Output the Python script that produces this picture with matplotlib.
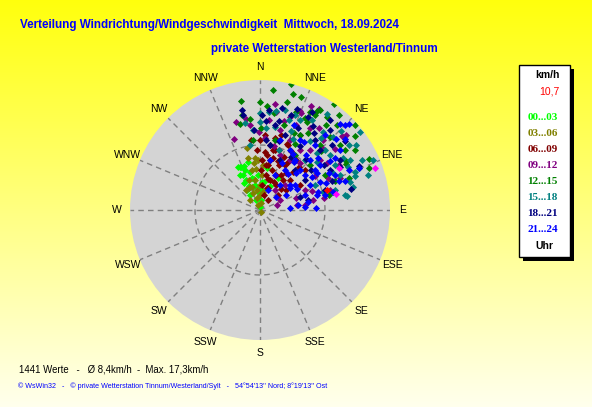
import numpy as np
import matplotlib as mpl
import matplotlib.pyplot as plt
from matplotlib.patches import Rectangle

mpl.rcParams["font.family"] = ["Liberation Sans", "DejaVu Sans"]

# ------------------------------------------------------------------
# Daten: Windrichtung (Grad, 0 = Nord, im Uhrzeigersinn) und
# Windgeschwindigkeit (km/h), je Uhrzeit-Gruppe aus dem Bild geschätzt
# ------------------------------------------------------------------
dir_00_03 = [336, 334, 335, 346, 350, 343, 354, 6, 0, 9, 9, 335, 339, 345, 329,
             327, 326, 349, 338, 6, 29, 346, 357, 335, 4, 23, 358, 340, 333, 330]
spd_00_03 = [7.2, 6.0, 5.1, 7.6, 4.9, 3.7, 2.8, 1.5, 0.5, 4.4, 6.5, 7.3, 6.6, 6.0, 4.8,
             3.7, 2.8, 3.9, 1.7, 3.1, 5.6, 5.1, 5.4, 4.1, 4.3, 4.0, 3.5, 7.2, 7.4, 6.2]

dir_03_06 = [355, 340, 359, 150, 354, 348, 336, 338, 346, 338, 351, 0, 3, 349, 325,
             340, 352, 8, 315, 10, 353, 347, 334, 358, 4]
spd_03_06 = [6.4, 3.8, 2.3, 0.3, 8.0, 9.7, 3.9, 2.8, 1.9, 0.8, 4.7, 3.8, 5.4, 6.3, 3.8,
             4.9, 3.1, 1.1, 2.2, 2.8, 7.3, 8.2, 3.8, 7.7, 6.9]

dir_06_09 = [2, 14, 31, 20, 27, 5, 9, 18, 29, 45, 50, 2, 10, 17, 33, 15, 52, 41, 24,
             357, 353, 12, 36, 58, 39, 5, 23, 11, 23, 48, 18, 38, 8, 0, 14,
             7, 12, 20, 25, 15, 30, 35, 4, 22, 28, 42, 10, 18, 45, 16]
spd_06_09 = [6.2, 8.2, 6.3, 3.6, 4.9, 9.0, 10.1, 9.7, 7.9, 6.5, 3.6, 7.7, 5.5, 6.4, 4.6,
             2.4, 5.0, 7.7, 8.9, 9.2, 10.8, 11.3, 9.5, 7.3, 2.0, 3.9, 7.5, 7.8, 10.9,
             9.3, 4.9, 5.8, 7.0, 10.8, 9.5,
             8.5, 9.5, 8.0, 6.0, 5.0, 8.5, 7.0, 11.5, 11.0, 10.2, 9.0, 7.0, 3.5, 4.5, 12.0]

dir_09_12 = [340, 351, 15, 26, 22, 23, 49, 31, 79, 84, 72, 79, 73, 82, 23, 34, 50, 14,
             6, 45, 58, 51, 353, 4, 74, 68, 23, 9, 66, 359, 42, 31, 63, 37, 40,
             18, 28, 36, 45, 55, 60, 12, 20, 65, 40, 30, 8, 345, 70, 48]
spd_09_12 = [11.6, 14.2, 14.1, 17.8, 16.4, 16.2, 17.5, 14.8, 10.0, 7.0, 5.9, 8.3, 2.7,
             5.7, 11.7, 11.1, 12.0, 12.7, 13.9, 5.4, 10.0, 14.8, 13.2, 11.1, 11.2, 13.3,
             14.2, 15.3, 7.6, 12.0, 14.4, 9.0, 3.4, 3.8, 12.0,
             15.0, 13.0, 15.5, 13.5, 12.5, 14.0, 10.0, 9.0, 11.5, 9.5, 18.0, 16.5, 14.0,
             8.5, 17.0]

dir_12_15 = [16, 14, 0, 4, 14, 349, 347, 354, 354, 26, 27, 30, 35, 31, 30, 36, 48, 42,
             44, 28, 65, 69, 69, 78, 28, 43, 16, 60, 48, 12, 51, 33, 58, 1, 62,
             20, 8, 38, 24, 55, 46, 32, 40, 20, 62, 6, 52, 70, 28, 350]
spd_12_15 = [18.6, 19.9, 16.6, 16.0, 17.1, 14.9, 13.5, 14.0, 10.9, 15.7, 17.0, 17.5,
             19.9, 17.9, 16.8, 17.6, 19.6, 17.7, 15.6, 15.4, 18.5, 17.9, 12.4, 10.9,
             13.1, 13.6, 13.6, 15.2, 10.4, 11.0, 15.9, 10.0, 17.3, 12.6, 11.4,
             16.0, 15.0, 16.5, 13.0, 16.0, 13.0, 14.0, 19.0, 18.5, 15.0, 18.5, 18.5,
             14.5, 11.5, 17.0]

dir_15_18 = [355, 5, 9, 360, 4, 20, 52, 46, 45, 39, 54, 72, 73, 80, 74, 64, 61, 67,
             66, 66, 76, 81, 350, 36, 52, 21, 24, 59, 66, 18, 47, 68, 14, 42, 351,
             30, 40, 58, 62, 70, 50, 25, 10, 56, 45, 75, 35, 18, 64, 0]
spd_15_18 = [12.3, 15.1, 15.4, 13.6, 12.6, 15.6, 19.6, 17.4, 15.9, 15.5, 16.9, 17.4,
             14.5, 13.3, 10.1, 15.0, 15.8, 16.6, 13.4, 19.0, 14.8, 13.5, 13.6, 13.2,
             13.7, 13.1, 15.2, 13.5, 9.3, 9.7, 13.6, 15.7, 15.9, 10.4, 10.1,
             16.0, 14.5, 15.0, 12.5, 15.5, 11.5, 12.0, 13.0, 17.8, 12.5, 12.0, 18.0,
             14.5, 17.5, 15.0]

dir_18_21 = [350, 350, 12, 4, 5, 27, 77, 66, 78, 18, 32, 45, 10, 41, 60, 32, 18, 58,
             356, 22, 73, 56, 1, 41, 72, 38, 9, 51,
             25, 35, 15, 20, 48, 55, 62, 30, 12, 42, 68, 5, 28, 38, 52]
spd_18_21 = [15.6, 14.9, 16.0, 13.7, 10.8, 16.1, 14.3, 16.7, 7.5, 12.2, 11.7, 13.1,
             13.3, 8.2, 12.4, 15.3, 15.3, 14.5, 12.3, 8.3, 10.5, 8.3, 14.6, 16.4, 6.5,
             13.7, 10.1, 16.9,
             14.0, 14.5, 11.0, 16.5, 15.0, 12.0, 14.0, 9.5, 14.0, 10.5, 12.0, 15.5,
             17.0, 17.5, 10.0]

dir_21_24 = [51, 60, 82, 22, 54, 71, 88, 76, 73, 65, 45, 43, 46, 50, 67, 87, 86, 45,
             45, 53, 27, 30, 40, 55, 32, 23, 52, 65, 63, 55, 41, 16, 22, 53, 39, 54,
             35, 77, 71, 11,
             35, 40, 48, 58, 62, 68, 44, 30, 55, 66, 75, 80, 50, 38, 60, 25, 47, 70,
             57, 33]
spd_21_24 = [3.2, 4.7, 5.9, 3.3, 5.7, 7.3, 8.6, 11.6, 9.4, 10.2, 18.4, 18.1, 19.1, 17.1,
             16.5, 4.6, 6.9, 8.7, 10.9, 11.5, 10.3, 12.4, 13.1, 13.2, 7.3, 5.9, 8.8,
             12.7, 8.6, 6.6, 15.3, 11.2, 14.1, 15.4, 4.9, 10.5, 9.4, 10.3, 13.9, 7.8,
             9.0, 11.0, 12.0, 9.5, 12.0, 11.0, 8.0, 10.0, 14.0, 15.0, 9.0, 7.5, 6.0,
             7.0, 6.5, 8.0, 16.0, 13.0, 10.5, 12.5]

# letzte Werte (magenta) und aktueller Wert (rot)
dir_last = [70, 62, 78]
spd_last = [18.8, 13.8, 11.9]
dir_now = [73]
spd_now = [10.7]

hour_labels = ["00...03", "03...06", "06...09", "09...12",
               "12...15", "15...18", "18...21", "21...24"]
hour_colors = ["#00FF00", "#808000", "#800000", "#800080",
               "#008000", "#008080", "#000080", "#0000FF"]
hour_dirs = [dir_00_03, dir_03_06, dir_06_09, dir_09_12,
             dir_12_15, dir_15_18, dir_18_21, dir_21_24]
hour_spds = [spd_00_03, spd_03_06, spd_06_09, spd_09_12,
             spd_12_15, spd_15_18, spd_18_21, spd_21_24]

compass = ["N", "NNE", "NE", "ENE", "E", "ESE", "SE", "SSE",
           "S", "SSW", "SW", "WSW", "W", "WNW", "NW", "NNW"]

R_MAX = 20.0
W, H = 592, 407
MS = 13  # Markergröße (Rauten)


def fx(x):
    return x / W


def fy(y):
    return 1 - y / H


fig = plt.figure(figsize=(W / 100, H / 100), dpi=100)

# Hintergrund: Farbverlauf gelb -> hellgelb
bg = fig.add_axes([0, 0, 1, 1])
t = np.linspace(0, 1, 256)[:, None]
img = np.dstack([np.ones_like(t), np.ones_like(t), 0.05 + 0.88 * t])
bg.imshow(img, aspect="auto", extent=[0, 1, 0, 1], origin="upper")
bg.set_xlim(0, 1)
bg.set_ylim(0, 1)
bg.set_axis_off()

# Titel
blue = "#0000FF"
fig.text(fx(20), fy(25), "Verteilung Windrichtung/Windgeschwindigkeit  Mittwoch, 18.09.2024",
         color=blue, fontsize=8.4, fontweight="bold", ha="left", va="center")
fig.text(fx(211), fy(49), "private Wetterstation Westerland/Tinnum",
         color=blue, fontsize=8.4, fontweight="bold", ha="left", va="center")

# Polardiagramm
ax = fig.add_axes([fx(130), fy(340), 260 / W, 260 / H], projection="polar")
ax.set_theta_zero_location("N")
ax.set_theta_direction(-1)
ax.set_ylim(0, R_MAX)
ax.set_facecolor("#D4D4D4")
ax.spines["polar"].set_visible(False)
ax.grid(False)
ax.set_xticks([])
ax.set_yticks([])

dash = (0, (4, 3))
for i in range(16):
    a = np.radians(i * 22.5)
    ax.plot([a, a], [0, R_MAX], color="#808080", lw=1, ls=dash, zorder=1)
circle_t = np.linspace(0, 2 * np.pi, 361)
ax.plot(circle_t, np.full_like(circle_t, R_MAX / 2), color="#808080", lw=1, ls=dash, zorder=1)

for i, name in enumerate(compass):
    ax.text(np.radians(i * 22.5), R_MAX * 1.1, name, fontsize=7.5,
            ha="center", va="center", clip_on=False)

ax.scatter([0], [0], marker="s", s=18, color="#8C8C8C", linewidths=0, zorder=2)

for col, d, s in zip(hour_colors, hour_dirs, hour_spds):
    ax.scatter(np.radians(d), s, marker="D", s=MS, color=col, linewidths=0, zorder=3)
ax.scatter(np.radians(dir_last), spd_last, marker="D", s=MS, color="#FF00FF",
           linewidths=0, zorder=4)
ax.scatter(np.radians(dir_now), spd_now, marker="D", s=MS, color="#FF0000",
           linewidths=0, zorder=5)

# Legende (Box mit Schatten)
bx0, by0, bx1, by1 = 519, 65, 570, 257
fig.patches.append(Rectangle((fx(bx0 + 4), fy(by1 + 4)), (bx1 - bx0) / W, (by1 - by0) / H,
                             transform=fig.transFigure, facecolor="black",
                             edgecolor="none", zorder=1))
fig.patches.append(Rectangle((fx(bx0), fy(by1)), (bx1 - bx0) / W, (by1 - by0) / H,
                             transform=fig.transFigure, facecolor="white",
                             edgecolor="black", lw=1, zorder=2))

fig.text(fx(547), fy(75), "km/h", fontsize=7.5, fontweight="bold", ha="center", va="center", zorder=3)
fig.text(fx(549), fy(92), "10,7", fontsize=7.5, color="#FF0000", ha="center", va="center", zorder=3)
for i, (lab, col) in enumerate(zip(hour_labels, hour_colors)):
    fig.text(fx(542.5), fy(118 + i * 16), lab, fontsize=8, color=col, fontweight="bold",
             family=["Liberation Serif", "DejaVu Serif"], ha="center", va="center", zorder=3)
fig.text(fx(544), fy(246), "Uhr", fontsize=7.5, fontweight="bold", ha="center", va="center", zorder=3)

# Fusszeilen
fig.text(fx(19), fy(369), "1441 Werte   -   Ø 8,4km/h  -  Max. 17,3km/h",
         fontsize=6.9, ha="left", va="center")
fig.text(fx(18), fy(386),
         "© WsWin32   -   © private Wetterstation Tinnum/Westerland/Sylt   -   "
         "54°54'13'' Nord; 8°19'13'' Ost",
         fontsize=5.1, color=blue, ha="left", va="center")

fig.savefig("out.png", dpi=100)
plt.close(fig)
